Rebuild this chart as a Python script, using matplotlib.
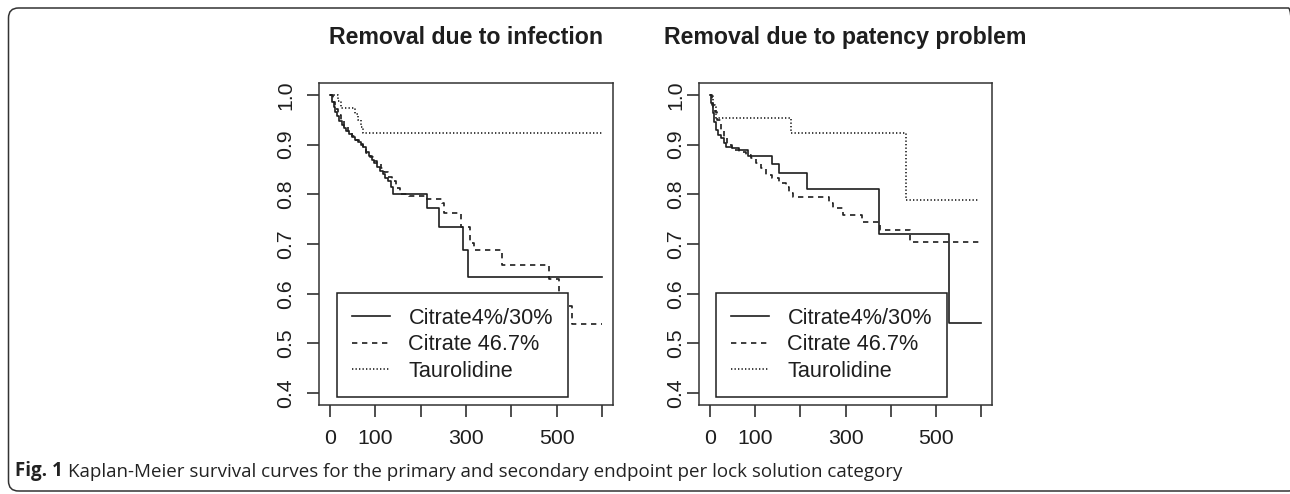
import numpy as np
import matplotlib
matplotlib.use('Agg')
import matplotlib.pyplot as plt
from matplotlib.patches import FancyBboxPatch
from matplotlib.transforms import IdentityTransform

# ---- data (days, survival) ----
groups = ['Citrate4%/30%', 'Citrate 46.7%', 'Taurolidine']

# removal due to infection
inf_cit30_t = [0, 4, 8, 12, 16, 21, 26, 31, 36, 42, 48, 55, 62, 68, 74, 80, 86, 92,
               98, 104, 110, 116, 122, 128, 134, 140, 215, 241, 294, 305, 600]
inf_cit30_s = [1.0, 0.985, 0.975, 0.965, 0.957, 0.948, 0.940, 0.934, 0.928, 0.921,
               0.915, 0.909, 0.905, 0.900, 0.895, 0.886, 0.877, 0.869, 0.862, 0.855,
               0.847, 0.840, 0.833, 0.826, 0.814, 0.801, 0.772, 0.735, 0.688, 0.633, 0.633]
inf_cit47_t = [0, 6, 12, 18, 25, 32, 40, 48, 56, 64, 72, 80, 88, 96, 104, 112, 120,
               128, 136, 145, 155, 175, 210, 247, 252, 289, 309, 317, 380, 484, 506,
               520, 534, 600]
inf_cit47_s = [1.0, 0.985, 0.972, 0.960, 0.948, 0.937, 0.928, 0.918, 0.909, 0.901,
               0.893, 0.884, 0.876, 0.868, 0.860, 0.852, 0.844, 0.835, 0.826, 0.812,
               0.800, 0.797, 0.790, 0.783, 0.762, 0.735, 0.702, 0.688, 0.657, 0.630,
               0.600, 0.575, 0.539, 0.539]
inf_taur_t = [0, 18, 25, 55, 62, 68, 74, 600]
inf_taur_s = [1.0, 0.987, 0.974, 0.962, 0.949, 0.936, 0.923, 0.923]

# removal due to patency problem
pat_cit30_t = [0, 3, 6, 9, 14, 19, 24, 31, 36, 50, 64, 85, 138, 153, 214, 374, 529, 600]
pat_cit30_s = [1.0, 0.983, 0.963, 0.946, 0.930, 0.920, 0.913, 0.903, 0.896, 0.893,
               0.889, 0.877, 0.861, 0.843, 0.810, 0.720, 0.541, 0.541]
pat_cit47_t = [0, 5, 11, 16, 24, 31, 38, 50, 64, 79, 90, 101, 113, 124, 138, 153,
               168, 176, 183, 264, 272, 295, 336, 376, 443, 600]
pat_cit47_s = [1.0, 0.980, 0.966, 0.950, 0.930, 0.913, 0.899, 0.889, 0.886, 0.879,
               0.873, 0.864, 0.852, 0.839, 0.832, 0.822, 0.815, 0.802, 0.794, 0.782,
               0.772, 0.759, 0.745, 0.728, 0.705, 0.705]
pat_taur_t = [0, 8, 14, 179, 433, 592]
pat_taur_s = [1.0, 0.975, 0.953, 0.923, 0.789, 0.789]

titles = ['Removal due to infection', 'Removal due to patency problem']
x_ticks = [0, 100, 200, 300, 400, 500, 600]
x_ticklabels = ['0', '100', '', '300', '', '500', '']
y_ticks = [0.4, 0.5, 0.6, 0.7, 0.8, 0.9, 1.0]
caption_bold = 'Fig. 1'
caption = 'Kaplan-Meier survival curves for the primary and secondary endpoint per lock solution category'

panels = [
    [(inf_cit30_t, inf_cit30_s), (inf_cit47_t, inf_cit47_s), (inf_taur_t, inf_taur_s)],
    [(pat_cit30_t, pat_cit30_s), (pat_cit47_t, pat_cit47_s), (pat_taur_t, pat_taur_s)],
]

# ---- style ----
ink = '#1e1e1e'
styles = ['-', (0, (3.2, 2.8)), (0, (0.8, 1.3))]
plt.rcParams['font.family'] = ['Liberation Sans', 'DejaVu Sans']

fig = plt.figure(figsize=(12.9, 4.94), dpi=100)
W, H = 1290, 494
# axes boxes in pixels: left, right, top, bottom
boxes = [(319, 613, 83, 405), (699, 992, 83, 405)]
ypads = [8.5, 1.5]
leg_anchor = [(0.061, 0.025), (0.058, 0.025)]

for k, (l, r, t, b) in enumerate(boxes):
    ax = fig.add_axes([l / W, 1 - b / H, (r - l) / W, (b - t) / H])
    for (tt, ss), ls, lab in zip(panels[k], styles, groups):
        ax.step(tt, ss, where='post', color=ink, lw=1.2, linestyle=ls, label=lab)
    ax.set_xlim(-24, 624)
    ax.set_ylim(0.376, 1.024)
    ax.set_xticks(x_ticks)
    ax.set_xticklabels(x_ticklabels)
    ax.set_yticks(y_ticks)
    ax.set_yticklabels(['%.1f' % v for v in y_ticks], rotation=90, va='center')
    ax.tick_params(axis='both', direction='out', length=8.6, width=1.1,
                   color=ink, labelsize=15.3, labelcolor=ink)
    ax.tick_params(axis='x', pad=8.5)
    ax.tick_params(axis='y', pad=ypads[k])
    for sp in ax.spines.values():
        sp.set_linewidth(1.1)
        sp.set_color('#333333')
    ax.text(0.5, (b - 44) / (b - t), titles[k], transform=ax.transAxes,
            ha='center', va='baseline', fontsize=16.7, fontweight='bold', color=ink)
    leg = ax.legend(loc='lower left', bbox_to_anchor=leg_anchor[k], borderaxespad=0,
                    fontsize=15.6, frameon=True, fancybox=False, framealpha=1,
                    edgecolor=ink, borderpad=0.7, labelspacing=0.25,
                    handlelength=1.75, handletextpad=0.85)
    leg.get_frame().set_linewidth(1.1)
    for txt in leg.get_texts():
        txt.set_color(ink)

# caption
cap_font = ['Open Sans', 'DejaVu Sans']
c1 = fig.text(15 / W, 18 / H, caption_bold, fontsize=13.5, fontweight='bold',
              family=cap_font, color='#222222', va='baseline')
fig.add_artist(matplotlib.text.Annotation(caption, xy=(1, 0), xycoords=c1,
               xytext=(4, 0), textcoords='offset points', va='bottom',
               fontsize=13.5, family=cap_font, color='#222222'))

# rounded frame around the figure panel
frame = FancyBboxPatch((8.5, 3), 1290, 483, boxstyle='round,pad=0,rounding_size=10',
                       transform=IdentityTransform(), fill=False,
                       edgecolor='#333333', lw=1.1)
fig.add_artist(frame)

fig.savefig('out.png', dpi=100)
